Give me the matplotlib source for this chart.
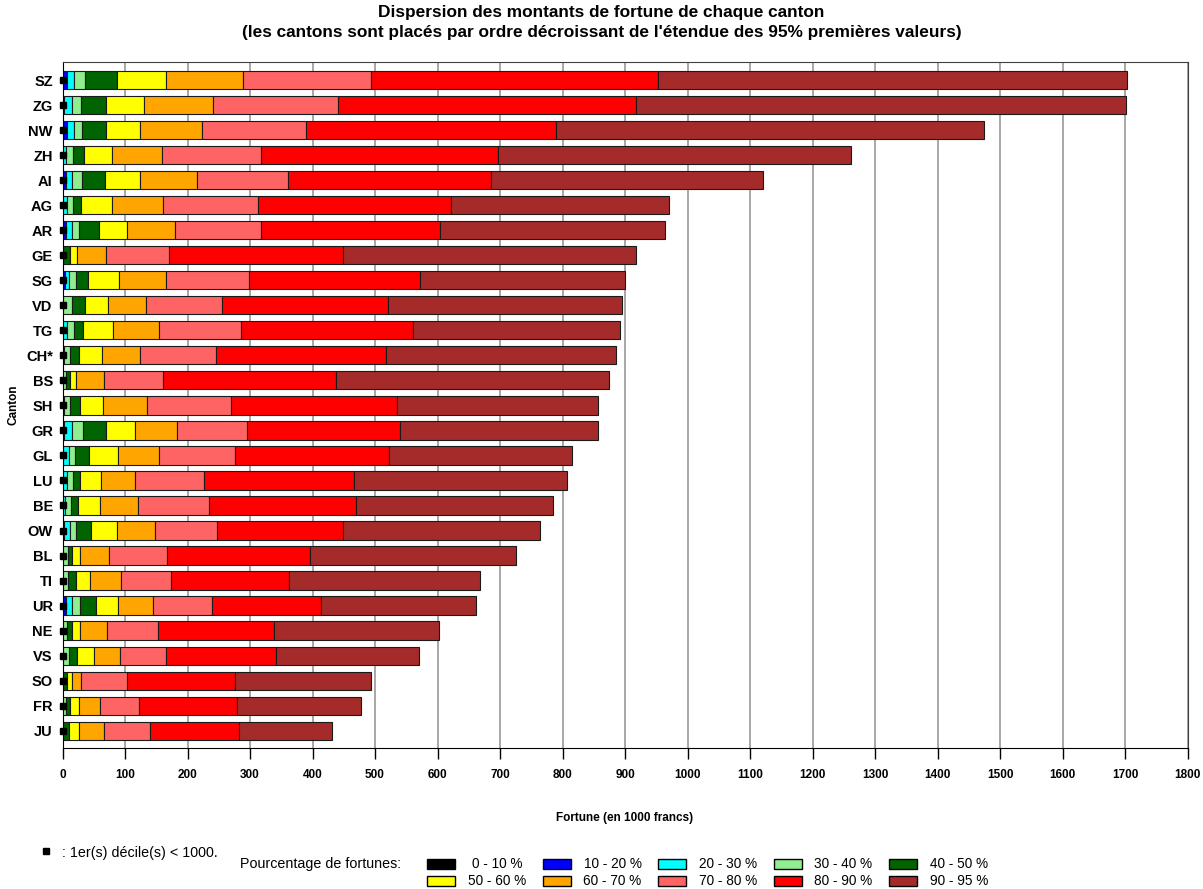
import numpy as np
import matplotlib
matplotlib.use("Agg")
import matplotlib.pyplot as plt
from matplotlib.patches import Rectangle
from matplotlib.lines import Line2D

plt.rcParams['font.family'] = ['Liberation Sans', 'DejaVu Sans']

# Cantons, du haut vers le bas
cantons = ['SZ', 'ZG', 'NW', 'ZH', 'AI', 'AG', 'AR', 'GE', 'SG', 'VD', 'TG', 'CH*', 'BS', 'SH',
           'GR', 'GL', 'LU', 'BE', 'OW', 'BL', 'TI', 'UR', 'NE', 'VS', 'SO', 'FR', 'JU']

# Bornes supérieures de chaque classe (en 1000 francs)
q10 = [0.5, 0.5, 0.5, 0.3, 0.5, 0.3, 0.5, 0.1, 0.5, 0.2, 0.3, 0.3, 0.1, 0.3,
       0.3, 0.3, 0.3, 0.3, 0.3, 0.1, 0.1, 0.5, 0.1, 0.1, 0.1, 0.1, 0.1]
q20 = [7.7, 2.9, 6.7, 1, 5.6, 1, 5.1, 0.3, 3.5, 0.5, 1, 1, 0.3, 1,
       1.9, 1, 1, 1, 2.9, 0.3, 0.3, 5.1, 0.3, 0.3, 0.2, 0.3, 0.2]
q30 = [18.9, 15.7, 18.9, 5, 15.7, 7.7, 14.7, 0.6, 10.9, 1, 6.7, 2.9, 0.6, 2.9,
       15.7, 10.4, 7.2, 3.5, 12.5, 0.6, 0.6, 14.7, 0.6, 0.6, 0.3, 0.6, 0.3]
q40 = [36, 29.6, 31.7, 16.8, 31.7, 16.8, 26.4, 1, 21.6, 14.7, 18.4, 12, 5.1, 12.5,
       32.8, 20, 16.3, 13.6, 21.6, 8.3, 9.3, 28.5, 7.7, 10.9, 0.5, 5.6, 0.5]
q50 = [87, 70, 70, 33.9, 68.5, 30.1, 58.4, 11.5, 41.3, 36, 33.3, 26.4, 12.5, 28,
       69, 42.9, 28, 24.8, 45.6, 15.7, 21.1, 53.6, 15.2, 22.7, 7.7, 12.5, 10.9]
q60 = [166, 130, 124.5, 78.7, 124.5, 78.7, 103.2, 23.7, 90.4, 72.8, 80.3, 63.7, 22.1, 65.3,
       116.5, 88.3, 61.6, 60, 87.7, 28, 44.5, 88.3, 28, 50.4, 14.7, 25.9, 25.9]
q70 = [289, 240, 222.7, 158.7, 214.7, 160.3, 180.5, 69.6, 165.6, 133.6, 154.4, 124.5, 65.9, 135.7,
       182.7, 154.4, 116.5, 121.3, 147.5, 74.9, 94.1, 145.3, 71.7, 92.5, 30.1, 60, 66.9]
q80 = [493, 441, 390, 317, 361, 312, 317, 171, 298.4, 255.7, 285.6, 245, 160.8, 269.6,
       294.7, 276, 226.9, 235, 247.7, 166.7, 173.6, 239.7, 152.8, 165.6, 103.7, 122.4, 139.5]
q90 = [952, 917, 789, 696, 685, 621, 604, 449, 572, 521, 560, 517, 438, 535,
       539.4, 522.4, 466, 469.7, 449, 396, 362.4, 413, 338.4, 341.6, 275.5, 279.7, 281.9]
q95 = [1703, 1701, 1475, 1262, 1120.5, 970, 964, 917, 899.5, 894.5, 892.5, 885, 873.7, 856,
       856, 815, 807.5, 784.6, 764, 726, 668, 662, 601.6, 569.7, 494, 477.7, 432]

classes = ['0 - 10 %', '10 - 20 %', '20 - 30 %', '30 - 40 %', '40 - 50 %',
           '50 - 60 %', '60 - 70 %', '70 - 80 %', '80 - 90 %', '90 - 95 %']
couleurs = ['#000000', '#0000ff', '#00ffff', '#90ee90', '#006400',
            '#ffff00', '#ffa500', '#ff6464', '#ff0000', '#a52a2a']

bornes = np.array([np.zeros(len(cantons)), q10, q20, q30, q40, q50, q60, q70, q80, q90, q95])
y = np.arange(len(cantons))

fig = plt.figure(figsize=(12.03, 8.89), dpi=100)
ax = fig.add_axes([62.5 / 1203, 1 - 748 / 889, 1125 / 1203, 686 / 889])

for k in range(len(classes)):
    ax.barh(y, bornes[k + 1] - bornes[k], left=bornes[k], height=0.73,
            color=couleurs[k], edgecolor='#1a1a1a', linewidth=0.8, zorder=2)

# 1er décile < 1000 francs
petit = np.array(q10) < 1
ax.plot(np.zeros(petit.sum()), y[petit], 's', color='black', ms=4.8,
        clip_on=False, zorder=5)

ax.set_xlim(0, 1800)
ax.set_ylim(len(cantons) - 1 + 0.69, -0.72)
ax.set_xticks(np.arange(0, 1801, 100))
ax.set_yticks(y)
ax.set_yticklabels(cantons, fontweight='bold', fontsize=10.5)
ax.tick_params(axis='y', length=0, pad=7)
ax.tick_params(axis='x', length=8, width=1, direction='out', pad=7)
for lab in ax.get_xticklabels():
    lab.set_fontweight('bold')
    lab.set_fontsize(8.5)
ax.xaxis.grid(True, color='#a0a0a0', linewidth=1.3)
ax.set_axisbelow(True)
for s in ax.spines.values():
    s.set_color('#404040')
ax.spines['left'].set_color('black')
ax.spines['bottom'].set_color('black')

ax.set_xlabel('Fortune (en 1000 francs)', fontweight='bold', fontsize=8.5)
ax.xaxis.set_label_coords(0.5, -0.093)
ax.set_ylabel('Canton', fontweight='bold', fontsize=8.5)
ax.yaxis.set_label_coords(-0.038, 0.5)

fig.text(0.5, 1 - 12 / 889, "Dispersion des montants de fortune de chaque canton",
         ha='center', va='center', fontweight='bold', fontsize=12.4)
fig.text(0.5, 1 - 32 / 889,
         "(les cantons sont placés par ordre décroissant de l'étendue des 95% premières valeurs)",
         ha='center', va='center', fontweight='bold', fontsize=12.4)

# notes et légende en bas
fig.add_artist(Line2D([46 / 1203], [1 - 851 / 889], marker='s', color='black', ms=5,
                      linestyle='none'))
fig.text(62 / 1203, 1 - 853 / 889, ': 1er(s) décile(s) < 1000.', va='center', fontsize=10.3)
fig.text(240 / 1203, 1 - 864 / 889, 'Pourcentage de fortunes:', va='center', fontsize=10.3)

for i, (lab, c) in enumerate(zip(classes, couleurs)):
    col = i % 5
    row = i // 5
    x0 = 427 + col * 115.5
    yc = 864 + row * 17
    fig.add_artist(Rectangle((x0 / 1203, 1 - (yc + 5) / 889), 28 / 1203, 10 / 889,
                             facecolor=c, edgecolor='black', linewidth=1,
                             transform=fig.transFigure))
    fig.text((x0 + 70) / 1203, 1 - yc / 889, lab, ha='center', va='center', fontsize=9.8)

fig.savefig('out.png', dpi=100)
